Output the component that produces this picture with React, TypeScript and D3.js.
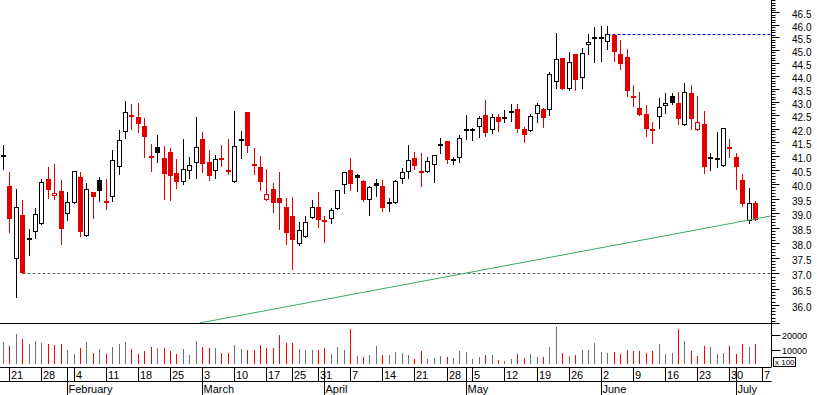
import React from 'react'
import * as d3 from 'd3'

// trading calendar (Xetra style: Good Friday, Easter Monday, 1 May closed)
const firstDay = '2008-01-18'
const lastDay = '2008-07-07'
const holidays = ['2008-03-21', '2008-03-24', '2008-05-01']

// daily OHLC
const open = [
  40.98, 39.95, 37.47, 38.94, 38.10, 38.38, 38.63, 40.20, 39.58, 39.78,
  38.97, 39.35, 40.27, 38.22, 39.74, 40.15, 39.44, 39.57, 40.61, 41.87,
  42.51, 42.44, 42.10, 41.01, 41.34, 40.94, 41.16, 40.41, 40.10, 40.46,
  40.75, 41.62, 40.80, 40.46, 40.94, 40.51, 40.08, 41.56, 42.63, 40.73,
  40.62, 39.45, 39.84, 39.53, 39.22, 38.92, 37.96, 38.20, 38.84, 39.22,
  38.74, 38.80, 39.15, 39.99, 40.51, 40.33, 40.12, 39.45, 40.06, 39.95,
  39.33, 39.37, 40.18, 40.45, 40.94, 40.43, 40.43, 40.68, 41.36, 41.55,
  40.83, 40.93, 41.90, 41.91, 42.05, 42.50, 41.94, 42.42, 42.39, 42.60,
  42.74, 41.99, 41.90, 42.54, 42.72, 42.69, 43.76, 44.67, 43.48, 44.84,
  43.89, 45.18, 45.47, 45.43, 45.33, 45.59, 44.84, 44.72, 43.22, 42.78,
  42.54, 41.97, 42.44, 42.83, 43.22, 42.96, 42.13, 43.35, 41.94, 42.18,
  40.92, 40.87, 40.66, 41.30, 40.98, 40.16, 38.74, 39.36,
]
const high = [
  41.41, 40.45, 39.84, 39.46, 38.46, 39.18, 40.20, 40.61, 40.73, 40.16,
  39.73, 40.46, 40.44, 40.06, 39.74, 40.27, 40.20, 41.23, 41.95, 43.03,
  42.92, 42.96, 42.39, 41.45, 41.77, 41.37, 41.30, 40.91, 41.62, 40.99,
  42.42, 41.88, 41.23, 41.05, 41.41, 41.62, 42.66, 41.92, 42.63, 41.30,
  41.01, 40.55, 40.06, 40.44, 39.53, 39.57, 38.71, 38.91, 39.46, 39.73,
  38.90, 39.18, 39.81, 40.44, 40.94, 40.37, 40.15, 39.94, 40.20, 40.16,
  39.53, 40.15, 40.57, 41.41, 41.16, 41.11, 40.97, 41.05, 41.66, 41.55,
  40.99, 41.77, 42.50, 42.01, 42.47, 43.07, 42.54, 42.55, 42.70, 42.92,
  42.92, 42.05, 42.54, 42.95, 42.77, 44.13, 45.66, 44.67, 44.93, 44.84,
  45.08, 45.63, 45.90, 45.96, 45.96, 45.59, 45.39, 45.04, 43.63, 43.37,
  42.88, 42.24, 43.16, 43.33, 43.33, 43.37, 43.73, 43.64, 43.22, 42.66,
  41.12, 41.88, 42.02, 41.62, 41.12, 40.37, 39.88, 39.42,
]
const low = [
  40.53, 38.38, 36.26, 37.00, 37.61, 38.18, 38.63, 39.52, 39.49, 37.98,
  38.79, 39.35, 38.24, 38.22, 38.83, 39.44, 39.15, 39.44, 40.38, 41.67,
  42.00, 41.88, 40.99, 40.48, 40.81, 39.51, 39.46, 39.87, 40.02, 40.24,
  40.24, 40.45, 40.14, 40.24, 40.66, 40.38, 40.08, 40.95, 41.17, 40.38,
  39.79, 39.45, 39.06, 38.48, 37.98, 37.13, 37.93, 38.20, 38.84, 38.52,
  38.05, 38.66, 39.15, 39.69, 39.81, 39.76, 39.43, 38.96, 39.58, 39.09,
  39.09, 39.37, 40.04, 40.22, 40.55, 39.96, 40.43, 40.10, 41.10, 40.74,
  40.73, 40.81, 41.63, 41.59, 41.71, 41.75, 41.84, 41.93, 42.24, 42.28,
  41.89, 41.53, 41.90, 42.23, 42.08, 42.49, 43.51, 43.49, 43.46, 43.46,
  43.53, 44.82, 44.53, 44.57, 45.04, 44.57, 44.26, 43.22, 42.85, 42.52,
  41.75, 41.49, 42.02, 42.59, 42.93, 42.19, 42.13, 41.98, 41.94, 40.40,
  40.52, 40.61, 40.66, 40.99, 39.85, 39.25, 38.66, 38.76,
]
const close = [
  41.00, 38.81, 39.23, 37.03, 38.13, 38.97, 40.10, 39.82, 39.70, 38.48,
  39.38, 40.46, 38.38, 39.84, 39.55, 39.76, 39.37, 40.86, 41.58, 42.61,
  42.43, 42.19, 41.71, 40.92, 41.11, 40.35, 40.31, 40.10, 40.53, 40.69,
  41.33, 40.71, 40.31, 40.90, 40.87, 40.45, 41.36, 41.58, 41.38, 40.66,
  40.07, 39.66, 39.37, 39.35, 38.35, 38.09, 38.43, 38.71, 39.23, 38.76,
  38.69, 39.11, 39.80, 40.43, 40.00, 40.21, 39.46, 39.91, 39.96, 39.20,
  39.34, 40.13, 40.43, 40.86, 40.66, 40.42, 40.83, 41.05, 41.45, 40.85,
  40.90, 41.65, 41.98, 41.99, 42.39, 41.86, 42.42, 42.24, 42.40, 42.61,
  42.00, 41.78, 42.47, 42.87, 42.41, 44.05, 44.65, 43.49, 44.51, 43.83,
  44.87, 45.31, 45.48, 45.50, 45.62, 44.90, 44.46, 43.42, 43.16, 42.52,
  41.98, 41.96, 42.81, 42.96, 42.97, 42.37, 43.37, 42.35, 42.24, 40.61,
  40.93, 40.94, 42.02, 41.29, 40.60, 39.33, 39.37, 38.76,
]
// volume in units of 100 shares
const volume = [
  15200, 12500, 20600, 17200, 13900, 15900, 14500, 13900, 13200, 13900,
  9800, 7100, 11200, 15200, 7800, 10500, 7100, 11800, 13900, 15200,
  10500, 7100, 9100, 11800, 11200, 11200, 9100, 7100, 10500, 6400,
  15900, 11800, 11200, 11200, 7800, 7800, 13200, 10500, 9800, 9800,
  13200, 11200, 11200, 19900, 14500, 14500, 10500, 9800, 9800, 9800,
  11200, 7100, 11800, 9800, 24000, 5700, 5100, 6400, 12500, 6400,
  6400, 8500, 7800, 6400, 3700, 9100, 3700, 4400, 5700, 5100,
  4400, 9100, 8500, 3700, 5100, 6400, 6400, 3000, 2400, 3700,
  7100, 4400, 7100, 5100, 5100, 11800, 25400, 7800, 5700, 6400,
  9800, 9800, 14500, 8500, 7800, 8500, 7100, 9800, 9100, 9100,
  7800, 9100, 13900, 7100, 7800, 24000, 15900, 9100, 5700, 12500,
  11800, 7100, 7800, 12500, 7100, 13900, 11800, 13900,
]

const priceLabels = ['36.0', '36.5', '37.0', '37.5', '38.0', '38.5', '39.0', '39.5', '40.0', '40.5',
  '41.0', '41.5', '42.0', '42.5', '43.0', '43.5', '44.0', '44.5', '45.0', '45.5', '46.0', '46.5']
const volumeLabels = [10000, 20000]

const supportLevel = 37.0       // grey dashed, drawn from bar 3
const supportFrom = 3
const resistanceLevel = 45.62   // blue dashed, drawn from bar 94
const resistanceFrom = 94
const trendLine = { fromBar: 30.6, fromPrice: 35.43, toBar: 119.4, toPrice: 38.91 }

const W = 817
const H = 395
const axisX = 771.5
const priceBottom = 323
const RED = '#e00000'
const FONT = 'Liberation Sans, Arial, sans-serif'

const parse = d3.utcParse('%Y-%m-%d')
const holidaySet = new Set(holidays)
const fmtKey = d3.utcFormat('%Y-%m-%d')
const days = d3.utcDay
  .range(parse(firstDay)!, d3.utcDay.offset(parse(lastDay)!, 1))
  .filter(d => d.getUTCDay() !== 0 && d.getUTCDay() !== 6 && !holidaySet.has(fmtKey(d)))

export default function App() {
  const x = d3.scaleLinear().domain([0, 118]).range([2.87, 761.6])
  const y = d3.scaleLog().domain([35.43, 47.01]).range([priceBottom, 0])
  const yv = d3.scaleLinear().domain([0, 28000]).range([364.5, 323])
  const cx = (i: number) => Math.round(x(i)) + 0.5

  const weekTicks: { i: number; label: string }[] = []
  const monthTicks: { i: number; label: string }[] = []
  days.forEach((d, i) => {
    if (i === 0) return
    const prev = days[i - 1]
    if (+d3.utcMonday.floor(d) !== +d3.utcMonday.floor(prev)) weekTicks.push({ i, label: String(d.getUTCDate()) })
    if (d.getUTCMonth() !== prev.getUTCMonth()) monthTicks.push({ i, label: d3.utcFormat('%B')(d) })
  })

  const minorTicks = d3.range(355, 471).map(v => v / 10).filter(v => y(v) >= 0 && y(v) <= priceBottom)

  const candles = open.map((o, i) => {
    const c = close[i]
    const prevClose = i > 0 ? close[i - 1] : o
    const col = c > prevClose ? '#000' : RED
    const hollow = c > o
    const top = Math.round(y(Math.max(o, c)))
    const bot = Math.round(y(Math.min(o, c)))
    const xc = cx(i)
    let body
    if (bot - top < 2) {
      body = <rect x={xc - 2.5} y={top - 1} width={5} height={2} fill={col} />
    } else if (hollow) {
      body = <rect x={xc - 2} y={top + 0.5} width={4} height={bot - top - 1} fill="#fff" stroke={col} strokeWidth={1} />
    } else {
      body = <rect x={xc - 2.5} y={top} width={5} height={bot - top} fill={col} />
    }
    return (
      <g key={i}>
        <line x1={xc} x2={xc} y1={Math.round(y(high[i]))} y2={Math.round(y(low[i])) + 1} stroke={col} strokeWidth={1} />
        {body}
      </g>
    )
  })

  const vols = volume.map((v, i) => {
    const down = i > 0 && close[i] < close[i - 1]
    const t = Math.round(yv(v))
    return <rect key={i} x={cx(i) - 0.5} y={t} width={1} height={364 - t} fill={down ? '#ff0000' : '#707070'} />
  })

  const tl = trendLine
  const tx1 = x(tl.fromBar), ty1 = y(tl.fromPrice)
  const tx2 = x(tl.toBar), ty2 = y(tl.toPrice)

  return (
    <svg width={W} height={H} style={{ position: 'absolute', left: 0, top: 0, background: '#fff' }} fontFamily={FONT}>
      <rect width={W} height={H} fill="#fff" />

      {/* reference lines */}
      <line x1={cx(supportFrom)} x2={axisX} y1={Math.round(y(supportLevel)) + 0.5} y2={Math.round(y(supportLevel)) + 0.5}
        stroke="#666" strokeDasharray="3,2" />
      <line x1={cx(resistanceFrom)} x2={axisX} y1={Math.round(y(resistanceLevel)) + 0.5} y2={Math.round(y(resistanceLevel)) + 0.5}
        stroke="#0000ff" strokeDasharray="3,2" />

      {candles}

      <line x1={tx1} y1={ty1} x2={tx2} y2={ty2} stroke="#3aaa64" strokeWidth={1} />

      {/* panels frame */}
      <line x1={0} x2={axisX + 8} y1={priceBottom + 0.5} y2={priceBottom + 0.5} stroke="#000" />
      <line x1={axisX} x2={axisX} y1={0} y2={367} stroke="#000" />

      {/* price axis */}
      {minorTicks.map(v => (
        <line key={v} x1={axisX} x2={axisX + 4} y1={Math.round(y(v)) + 0.5} y2={Math.round(y(v)) + 0.5} stroke="#000" />
      ))}
      {priceLabels.map(l => {
        const ty = Math.round(y(+l)) + 0.5
        return (
          <g key={l}>
            <line x1={axisX} x2={axisX + 8} y1={ty} y2={ty} stroke="#000" />
            <text x={792} y={ty + 5.8} fontSize={10} fill="#000">{l}</text>
          </g>
        )
      })}

      {/* volume */}
      {vols}
      {volumeLabels.map(v => {
        const ty = Math.round(yv(v)) + 0.5
        return (
          <g key={v}>
            <line x1={axisX} x2={axisX + 9} y1={ty} y2={ty} stroke="#000" />
            <text x={782} y={ty + 3.2} fontSize={9} fill="#000">{v}</text>
          </g>
        )
      })}
      <rect x={773.5} y={357.5} width={22} height={9} fill="#fff" stroke="#000" />
      <text x={775} y={365} fontSize={8} fill="#000">x 100</text>

      {/* date axis */}
      <line x1={0} x2={axisX} y1={367.5} y2={367.5} stroke="#000" />
      <line x1={0} x2={axisX} y1={381.5} y2={381.5} stroke="#000" />
      {weekTicks.map(t => (
        <g key={'w' + t.i}>
          <line x1={cx(t.i)} x2={cx(t.i)} y1={367} y2={381} stroke="#000" />
          <text x={cx(t.i) + 1.5} y={378.5} fontSize={11} fill="#000">{t.label}</text>
        </g>
      ))}
      {monthTicks.map(t => (
        <g key={'m' + t.i}>
          <line x1={cx(t.i)} x2={cx(t.i)} y1={367} y2={H} stroke="#000" />
          <text x={cx(t.i) + 1} y={392.5} fontSize={11} fill="#000">{t.label}</text>
        </g>
      ))}
    </svg>
  )
}
